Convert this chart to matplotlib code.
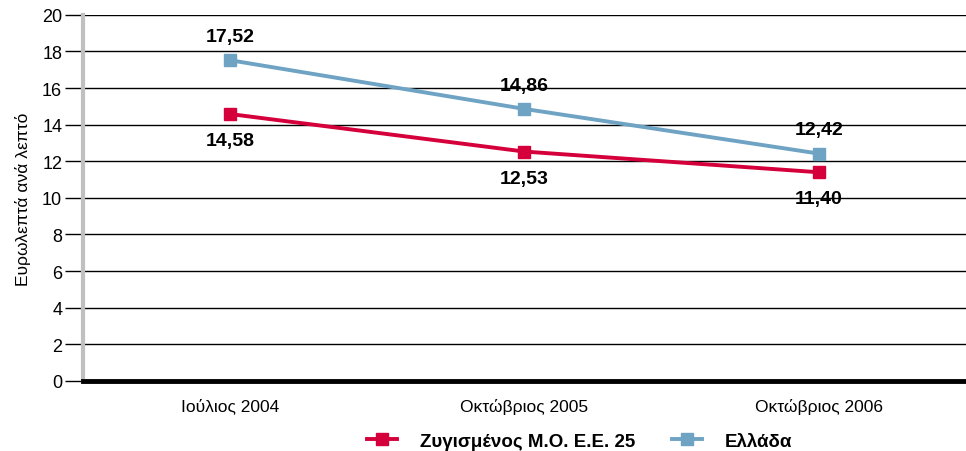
import matplotlib.pyplot as plt
from matplotlib import font_manager

# Δεδομένα
periodoi = ['Ιούλιος 2004', 'Οκτώβριος 2005', 'Οκτώβριος 2006']
ee25 = [14.58, 12.53, 11.40]
ellada = [17.52, 14.86, 12.42]
ee25_etiketes = ['14,58', '12,53', '11,40']
ellada_etiketes = ['17,52', '14,86', '12,42']
y_ticks = [0, 2, 4, 6, 8, 10, 12, 14, 16, 18, 20]

onomata = {f.name for f in font_manager.fontManager.ttflist}
if 'Liberation Sans Narrow' in onomata:
    plt.rcParams['font.family'] = ['Liberation Sans Narrow', 'DejaVu Sans']
else:
    plt.rcParams['font.family'] = ['Liberation Sans', 'DejaVu Sans']

kokkino = '#d5003b'
ble = '#6ea3c4'

fig = plt.figure(figsize=(9.66, 4.52), dpi=100)
ax = fig.add_axes([0.0859, 0.155, 0.914, 0.81])

x = list(range(len(periodoi)))
ax.plot(x, ee25, color=kokkino, lw=2.8, marker='s', ms=9,
        label='Ζυγισμένος Μ.Ο. Ε.Ε. 25', zorder=4)
ax.plot(x, ellada, color=ble, lw=2.8, marker='s', ms=9,
        label='Ελλάδα', zorder=4)

for xi, v, t in zip(x, ellada, ellada_etiketes):
    ax.annotate(t, (xi, v), xytext=(0, 11), textcoords='offset points',
                ha='center', va='bottom', fontsize=14, fontweight='bold')
for xi, v, t in zip(x, ee25, ee25_etiketes):
    ax.annotate(t, (xi, v), xytext=(0, -13), textcoords='offset points',
                ha='center', va='top', fontsize=14, fontweight='bold')

ax.set_xlim(-0.5, 2.5)
ax.set_ylim(0, 20)
ax.set_yticks(y_ticks)
ax.set_xticks(x)
ax.set_xticklabels(periodoi, fontsize=12.5)
ax.tick_params(axis='y', length=13, width=1, labelsize=13, pad=2)
ax.tick_params(axis='x', length=0, pad=12)
ax.grid(axis='y', color='black', lw=1)
ax.set_axisbelow(True)

for s in ['top', 'right']:
    ax.spines[s].set_visible(False)
ax.spines['left'].set_color('#c0c0c0')
ax.spines['left'].set_linewidth(3)
ax.spines['bottom'].set_color('black')
ax.spines['bottom'].set_linewidth(3.5)
ax.spines['bottom'].set_zorder(5)

ax.set_ylabel('Ευρωλεπτά ανά λεπτό', fontsize=12.5, labelpad=8)

leg = fig.legend(loc='lower center', bbox_to_anchor=(0.6, -0.035), ncol=2,
                 frameon=False, prop={'size': 13.5, 'weight': 'bold'},
                 columnspacing=2.0, handlelength=1.6, handletextpad=1.2)

fig.savefig('out.png', dpi=100)
